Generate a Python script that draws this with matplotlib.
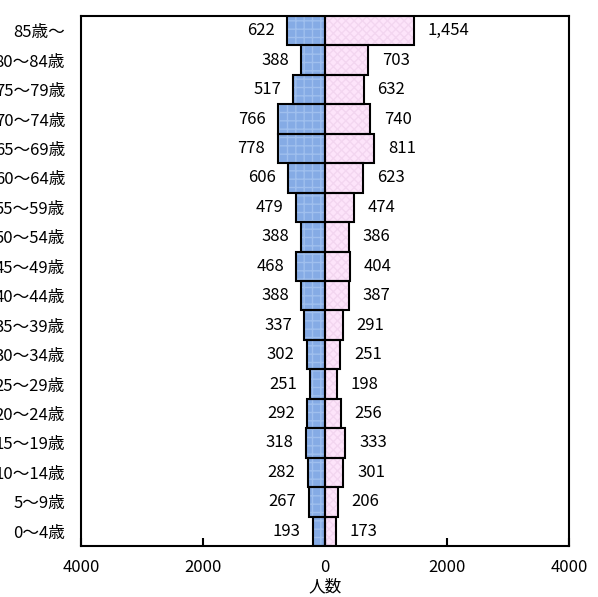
import matplotlib
matplotlib.use("Agg")
import matplotlib.pyplot as plt
import numpy as np

plt.rcParams['font.family'] = ['Noto Sans CJK JP', 'DejaVu Sans']

categories = ["0～4歳", "5～9歳", "10～14歳", "15～19歳", "20～24歳", "25～29歳",
              "30～34歳", "35～39歳", "40～44歳", "45～49歳", "50～54歳", "55～59歳",
              "60～64歳", "65～69歳", "70～74歳", "75～79歳", "80～84歳", "85歳～"]
male = [193, 267, 282, 318, 292, 251, 302, 337, 388, 468, 388, 479, 606, 778, 766, 517, 388, 622]
female = [173, 206, 301, 333, 256, 198, 251, 291, 387, 404, 386, 474, 623, 811, 740, 632, 703, 1454]
xticks = [-4000, -2000, 0, 2000, 4000]
xticklabels = ["4000", "2000", "0", "2000", "4000"]

fig = plt.figure(figsize=(5.98, 5.97), dpi=100)
ax = fig.add_axes([0.1355, 0.0854, 0.816, 0.8878])

y = np.arange(len(categories))
m = -np.array(male)
f = np.array(female)

fs = 12

# fill with subtle pattern
ax.barh(y, m, height=1.0, color="#85abe5", edgecolor="#9fbfee", hatch="++", linewidth=0)
ax.barh(y, f, height=1.0, color="#fde4fa", edgecolor="#f3d6f0", hatch="xxxx", linewidth=0)
# outlines
ax.barh(y, m, height=1.0, fill=False, edgecolor="black", linewidth=1.5)
ax.barh(y, f, height=1.0, fill=False, edgecolor="black", linewidth=1.5)

for yi, v in zip(y, male):
    ax.annotate(f"{v:,}", (-v, yi), xytext=(-9, 0), textcoords="offset points",
                ha="right", va="center", fontsize=fs)
for yi, v in zip(y, female):
    ax.annotate(f"{v:,}", (v, yi), xytext=(10, 0), textcoords="offset points",
                ha="left", va="center", fontsize=fs)

ax.set_xlim(-4000, 4000)
ax.set_ylim(-0.5, len(categories) - 0.5)
ax.set_yticks(y)
ax.set_yticklabels(categories, fontsize=fs)
ax.tick_params(axis="y", length=0, pad=11.5)
ax.set_xticks(xticks)
ax.set_xticklabels(xticklabels, fontsize=fs)
ax.tick_params(axis="x", direction="in", length=6, width=1.5, pad=9)
ax.set_xlabel("人数", fontsize=fs, labelpad=2)
for s in ax.spines.values():
    s.set_linewidth(1.5)

fig.savefig("out.png", dpi=100)
